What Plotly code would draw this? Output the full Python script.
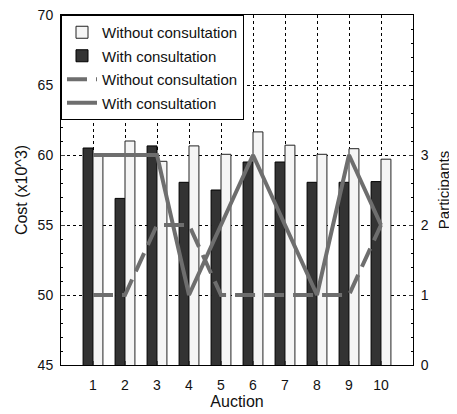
import plotly.graph_objects as go

auctions = [1, 2, 3, 4, 5, 6, 7, 8, 9, 10]
cost_without = [59.9, 61.0, 59.55, 60.65, 60.05, 61.65, 60.7, 60.05, 60.45, 59.7]
cost_with = [60.5, 56.9, 60.65, 58.05, 57.5, 59.5, 59.5, 58.05, 58.05, 58.1]
part_without = [1, 1, 2, 2, 1, 1, 1, 1, 1, 2]
part_with = [3, 3, 3, 1, 2, 3, 2, 1, 3, 2]

FONT = "Liberation Sans, Arial, sans-serif"

fig = go.Figure()
fig.add_trace(go.Bar(
    x=auctions, y=cost_with, base=0, name="With consultation",
    marker=dict(color="#333333", line=dict(color="#000000", width=1)),
    legendrank=2, legendgroup="b",
))
fig.add_trace(go.Bar(
    x=auctions, y=cost_without, name="Without consultation",
    marker=dict(color="#f5f5f5", line=dict(color="#222222", width=1)),
    legendrank=1, legendgroup="a",
))
fig.add_trace(go.Scatter(
    x=auctions, y=part_without, yaxis="y2", mode="lines",
    name="Without consultation",
    line=dict(color="#6e6e6e", width=4, dash="20px,9px"),
    legendrank=3, legendgroup="c",
))
fig.add_trace(go.Scatter(
    x=auctions, y=part_with, yaxis="y2", mode="lines",
    name="With consultation",
    line=dict(color="#6e6e6e", width=4),
    legendrank=4, legendgroup="d",
))

# page body has an 8px margin, so the figure is shrunk and margins shifted
fig.update_layout(
    width=449, height=406,
    margin=dict(l=53, r=44, t=7, b=49),
    paper_bgcolor="white", plot_bgcolor="white",
    font=dict(family=FONT, size=14, color="#111111"),
    barmode="group", bargap=0.38, bargroupgap=0,
    showlegend=True,
    legend=dict(
        x=0, y=1, xanchor="left", yanchor="top",
        bgcolor="white", bordercolor="black", borderwidth=1,
        font=dict(family=FONT, size=15),
        itemwidth=30, tracegroupgap=1, traceorder="grouped",
    ),
    xaxis=dict(
        range=[0, 11], tickvals=auctions, ticks="inside", ticklen=4,
        showline=True, linecolor="black", linewidth=1, mirror=True,
        showgrid=True, gridcolor="black", griddash="dot", gridwidth=1,
        title=dict(text="Auction", font=dict(size=16), standoff=1),
        zeroline=False, automargin=False, ticklabelstandoff=7,
    ),
    yaxis=dict(
        range=[45, 70], tickvals=[45, 50, 55, 60, 65, 70], ticks="inside", ticklen=4,
        showline=True, linecolor="black", linewidth=1, mirror=True,
        showgrid=True, gridcolor="black", griddash="dot", gridwidth=1,
        title=dict(text="Cost (x10^3)", font=dict(size=16), standoff=6),
        zeroline=False, automargin=False, ticklabelstandoff=4,
        ticklabeloverflow="allow",
        minor=dict(ticks="inside", ticklen=2, dtick=1, tickcolor="black"),
    ),
    yaxis2=dict(
        overlaying="y", side="right", range=[0, 5], tickvals=[0, 1, 2, 3],
        ticks="inside", ticklen=4, showgrid=False, zeroline=False,
        showline=True, linecolor="black", automargin=False, ticklabelstandoff=4,
        ticklabeloverflow="allow",
        minor=dict(ticks="inside", ticklen=2, dtick=0.2, tickcolor="black"),
        title=dict(text="Participants", font=dict(size=15), standoff=10),
    ),
)

fig.write_html("out.html")
